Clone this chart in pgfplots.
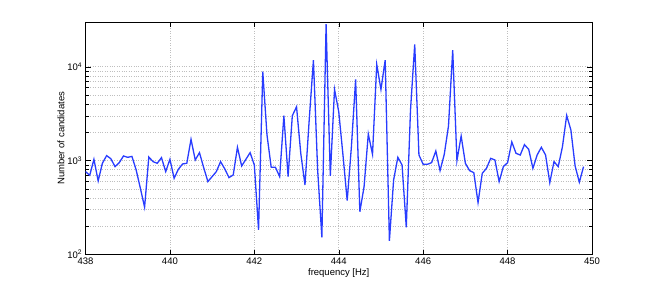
\documentclass[border=0pt]{standalone}
\usepackage{pgfplots}
\pgfplotsset{compat=1.18}
\usepackage{fontspec}
\setmainfont{Liberation Sans}
\definecolor{mblue}{RGB}{40,60,255}
\begin{document}
\fontsize{9.5}{11}\selectfont
\begin{tikzpicture}
\path[use as bounding box] (0,0) rectangle (654pt,287pt);
\begin{axis}[
 at={(85.5pt,32.5pt)}, anchor=south west,
 scale only axis, width=506.5pt, height=232.5pt,
 ymode=log, log basis y=10,
 xmin=438, xmax=450, ymin=100, ymax=30000,
 xtick={438,440,...,450},
 yticklabel={10\textsuperscript{\pgfmathparse{int(round(\tick))}\pgfmathresult}},
 /pgf/number format/assume math mode=true,
 /pgf/number format/1000 sep={},
 xmajorgrids, ymajorgrids, yminorgrids,
 grid style={dotted, gray!50, line width=0.6pt},
 major tick length=5pt, minor tick length=3pt,
 tick align=inside,
 axis line style={black, line width=0.5pt},
 tick style={black, line width=0.5pt},
 every tick label/.append style={font=\fontsize{9.5}{11}\selectfont},
 xlabel={frequency [Hz]}, ylabel={Number of candidates},
 xlabel style={at={(axis description cs:0.5,-0.0817)}, anchor=center, font=\fontsize{9.5}{11}\selectfont},
 ylabel style={at={(axis description cs:-0.0484,0.5)}, anchor=center, font=\fontsize{9.5}{11}\selectfont},
]
\addplot[mblue, line width=1.3pt, mark=none] coordinates {
(438.0,764) (438.1,698) (438.2,1033) (438.3,608) (438.4,937) (438.5,1130) (438.6,1050) (438.7,863) (438.8,952) (438.9,1121)
(439.0,1085) (439.1,1110) (439.2,796) (439.3,508) (439.4,319) (439.5,1093) (439.6,976) (439.7,937) (439.8,1076) (439.9,764)
(440.0,1033) (440.1,649) (440.2,809) (440.3,922) (440.4,937) (440.5,1687) (440.6,1016) (440.7,1216) (440.8,843) (440.9,598)
(441.0,676) (441.1,764) (441.2,976) (441.3,816) (441.4,660) (441.5,704) (441.6,1387) (441.7,877) (441.8,1033) (441.9,1216)
(442.0,899) (442.1,183) (442.2,8850) (442.3,1876) (442.4,849) (442.5,849) (442.6,676) (442.7,3010) (442.8,676) (442.9,3010)
(443.0,3750) (443.1,1197) (443.2,551) (443.3,2710) (443.4,11770) (443.5,796) (443.6,152) (443.7,28400) (443.8,687) (443.9,5740)
(444.0,3320) (444.1,1148) (444.2,375) (444.3,1408) (444.4,7330) (444.5,286) (444.6,528) (444.7,1922) (444.8,1167) (444.9,10590)
(445.0,5740) (445.1,11770) (445.2,140) (445.3,623) (445.4,1085) (445.5,899) (445.6,195) (445.7,3460) (445.8,17300) (445.9,1148)
(446.0,914) (446.1,914) (446.2,952) (446.3,1267) (446.4,783) (446.5,1167) (446.6,2340) (446.7,15030) (446.8,1000) (446.9,1829)
(447.0,937) (447.1,783) (447.2,745) (447.3,357) (447.4,733) (447.5,828) (447.6,1058) (447.7,1016) (447.8,598) (447.9,863)
(448.0,952) (448.1,1581) (448.2,1197) (448.3,1148) (448.4,1480) (448.5,1320) (448.6,828) (448.7,1148) (448.8,1387) (448.9,1148)
(449.0,583) (449.1,976) (449.2,863) (449.3,1410) (449.4,3030) (449.5,2118) (449.6,877) (449.7,589) (449.8,863)
};
\end{axis}
\end{tikzpicture}
\end{document}
